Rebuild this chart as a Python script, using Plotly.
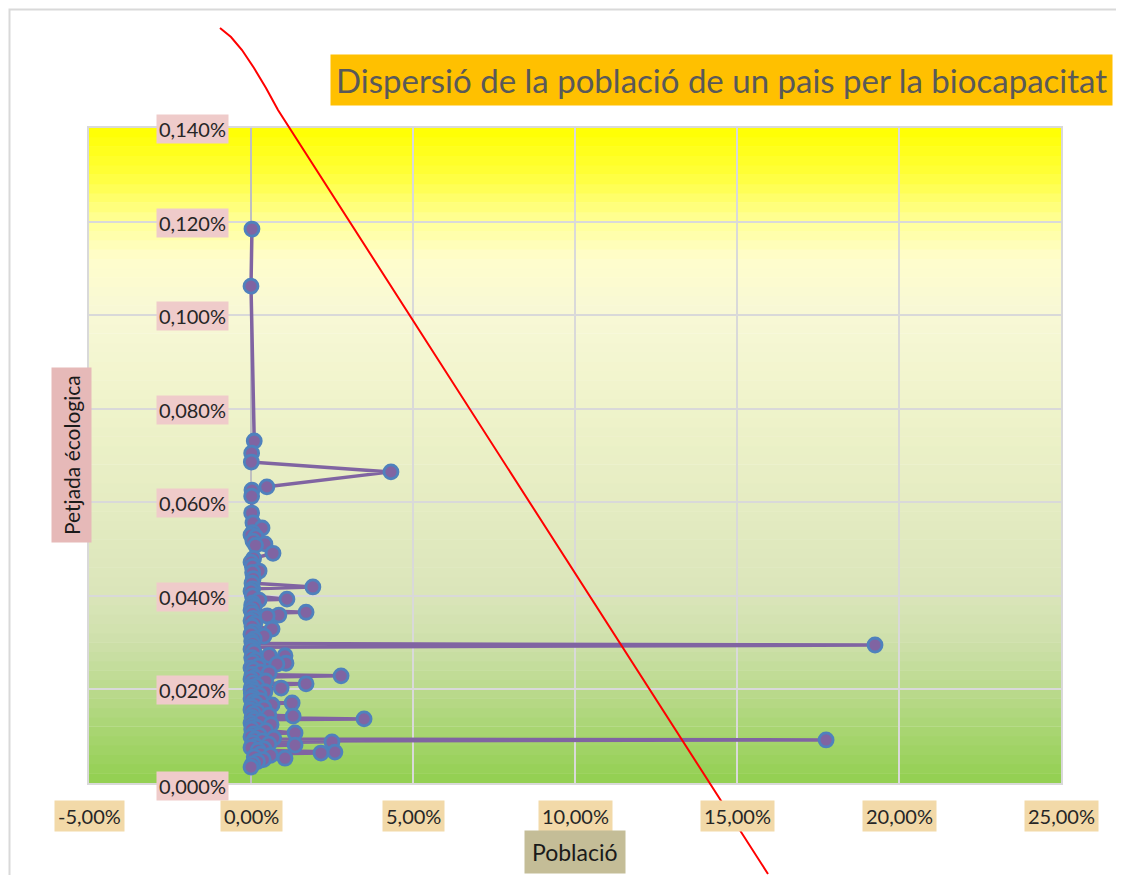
import plotly.graph_objects as go

# ---------------- data ----------------
# Població (% of world population) and Petjada ecològica (%), ordered as drawn
poblacio_pct = [
    0.03, 0.00, 0.10, 0.02, 0.01, 4.32, 0.49, 0.03, 0.02, 0.02,
    0.06, 0.34, 0.05, 0.00, 0.15, 0.06, 0.43, 0.14, 0.68, 0.08,
    0.00, 0.04, 0.25, 0.05, 0.07, 0.03, 1.91, 0.05, 0.00, 0.04,
    1.11, 0.25, 0.05, 0.02, 0.10, 0.00, 1.70, 0.04, 0.86, 0.50,
    0.08, 0.00, 0.12, 0.03, 0.65, 0.06, 0.00, 0.40, 0.10, 0.02,
    0.05, 19.26, 0.03, 0.00, 0.09, 0.56, 1.05, 0.02, 0.14, 0.05,
    1.08, 0.80, 0.22, 0.00, 0.08, 0.30, 0.56, 0.03, 2.78, 0.12,
    0.00, 0.45, 0.06, 1.70, 0.18, 0.02, 0.93, 0.00, 0.10, 0.43,
    0.01, 0.25, 0.05, 0.00, 0.30, 0.08, 1.27, 0.15, 0.65, 0.02,
    0.40, 0.00, 0.20, 0.07, 0.55, 1.30, 0.03, 3.49, 0.10, 0.30,
    0.00, 0.62, 0.05, 0.18, 0.02, 0.45, 1.36, 0.08, 0.25, 0.00,
    0.70, 0.12, 17.75, 0.35, 2.50, 0.05, 0.55, 1.36, 0.15, 0.00,
    0.40, 0.22, 2.59, 2.16, 0.30, 0.60, 0.10, 1.05, 0.38, 0.20,
    0.05, 0.00,
]
petjada_pct = [
    0.1184, 0.1062, 0.0731, 0.0705, 0.0686, 0.0665, 0.0633, 0.0626, 0.0613, 0.0577,
    0.0556, 0.0545, 0.0535, 0.0530, 0.0526, 0.0517, 0.0511, 0.0508, 0.0491, 0.0480,
    0.0472, 0.0463, 0.0453, 0.0450, 0.0437, 0.0427, 0.0419, 0.0415, 0.0410, 0.0400,
    0.0393, 0.0391, 0.0385, 0.0380, 0.0376, 0.0369, 0.0365, 0.0362, 0.0359, 0.0357,
    0.0352, 0.0347, 0.0341, 0.0335, 0.0329, 0.0323, 0.0318, 0.0314, 0.0308, 0.0303,
    0.0298, 0.0295, 0.0290, 0.0286, 0.0280, 0.0273, 0.0272, 0.0268, 0.0263, 0.0258,
    0.0256, 0.0254, 0.0250, 0.0246, 0.0242, 0.0237, 0.0235, 0.0232, 0.0229, 0.0226,
    0.0222, 0.0218, 0.0214, 0.0212, 0.0208, 0.0205, 0.0203, 0.0200, 0.0197, 0.0195,
    0.0192, 0.0188, 0.0184, 0.0180, 0.0176, 0.0173, 0.0171, 0.0169, 0.0167, 0.0163,
    0.0160, 0.0156, 0.0152, 0.0148, 0.0145, 0.0143, 0.0140, 0.0137, 0.0135, 0.0131,
    0.0128, 0.0125, 0.0122, 0.0119, 0.0115, 0.0112, 0.0107, 0.0105, 0.0102, 0.0099,
    0.0096, 0.0094, 0.0092, 0.0090, 0.0088, 0.0086, 0.0083, 0.0081, 0.0079, 0.0076,
    0.0073, 0.0070, 0.0066, 0.0064, 0.0062, 0.0059, 0.0056, 0.0053, 0.0050, 0.0046,
    0.0041, 0.0034,
]

x_tick_vals = [-5, 0, 5, 10, 15, 20, 25]
y_tick_vals = [0.000, 0.020, 0.040, 0.060, 0.080, 0.100, 0.120, 0.140]

title_text = "Dispersió de la població de un pais per la biocapacitat"
x_title = "Població"
y_title = "Petjada écologica"

# background gradient stops (value on y axis, colour)
grad_stops = [
    (0.000, (0x92, 0xD0, 0x50)),
    (0.010, (0xA6, 0xD4, 0x6E)),
    (0.020, (0xBB, 0xDA, 0x8E)),
    (0.030, (0xCE, 0xE0, 0xAA)),
    (0.040, (0xDA, 0xE5, 0xBA)),
    (0.060, (0xE5, 0xEC, 0xC2)),
    (0.080, (0xEF, 0xF3, 0xCA)),
    (0.100, (0xF7, 0xF8, 0xD6)),
    (0.112, (0xFF, 0xFD, 0xCC)),
    (0.120, (0xFF, 0xFF, 0x99)),
    (0.130, (0xFF, 0xFF, 0x3A)),
    (0.140, (0xFF, 0xFF, 0x00)),
]

OFF = 8                      # page body margin
W, H = 1124 - OFF, 877 - OFF
L, R, T, B = 89 - OFF, 63, 128 - OFF, 94
FONT = "Lato, 'Open Sans', sans-serif"


def grad_color(v):
    for (v0, c0), (v1, c1) in zip(grad_stops[:-1], grad_stops[1:]):
        if v0 <= v <= v1:
            t = (v - v0) / (v1 - v0)
            return "rgb(%d,%d,%d)" % tuple(round(a + (b - a) * t) for a, b in zip(c0, c1))
    return "rgb(255,255,0)"


def px(xp, yp):
    """page pixel position -> paper coordinates (for decorations only)"""
    pw, ph = W - L - R, H - T - B
    return (xp - OFF - L) / pw, (H - B - (yp - OFF)) / ph


fig = go.Figure()
fig.add_trace(go.Scatter(
    x=poblacio_pct, y=petjada_pct,
    mode="lines+markers",
    line=dict(color="#8064A2", width=3.5),
    marker=dict(size=14, color="#8064A2", line=dict(color="#4F81BD", width=2.8)),
    showlegend=False,
    cliponaxis=False,
))

shapes = []
n_bands = 70
ymax = y_tick_vals[-1]
for i in range(n_bands):
    y0 = ymax * i / n_bands
    y1 = ymax * (i + 1) / n_bands
    shapes.append(dict(type="rect", xref="x domain", yref="y", x0=0, x1=1,
                       y0=y0, y1=y1 + ymax / n_bands * 0.05,
                       fillcolor=grad_color((y0 + y1) / 2), line=dict(width=0),
                       layer="below"))

# chart area border (grey, only top and left edges are in view)
b_pts = [px(1122, 9.5), px(9.5, 9.5), px(9.5, 875)]
shapes.append(dict(type="path", xref="paper", yref="paper",
                   path="M %f,%f L %f,%f L %f,%f" % (b_pts[0] + b_pts[1] + b_pts[2]),
                   line=dict(color="#D9D9D9", width=2), layer="above"))

# hand-drawn red line over the chart
pts = [(220, 28), (231, 37), (242, 50), (254, 68), (266, 88), (278, 110), (768, 874)]
pp = [px(a, b) for a, b in pts]
path = "M %f,%f " % pp[0] + " ".join("L %f,%f" % p for p in pp[1:])
shapes.append(dict(type="path", xref="paper", yref="paper", path=path,
                   line=dict(color="#FF0000", width=2), layer="above"))

annotations = []
for v in y_tick_vals:
    annotations.append(dict(
        x=0, y=v, xref="x", yref="y", xanchor="right", yanchor="middle",
        xshift=-22, yshift=-1 if v > 0 else -3,
        text=("%.3f%%" % v).replace(".", ","), showarrow=False,
        font=dict(family=FONT, size=20, color="#262626"),
        bgcolor="#EFCBCA", borderpad=2,
    ))
for v in x_tick_vals:
    annotations.append(dict(
        x=v, y=0, xref="x", yref="paper", xanchor="center", yanchor="top",
        yshift=-17,
        text=("%.2f%%" % v).replace(".", ","), showarrow=False,
        font=dict(family=FONT, size=20, color="#262626"),
        bgcolor="#F2D9A8", borderpad=3,
    ))
tx, ty = px(721, 80)
annotations.append(dict(
    x=tx, y=ty, xref="paper", yref="paper", xanchor="center", yanchor="middle",
    text=title_text, showarrow=False,
    font=dict(family=FONT, size=33, color="#595959"),
    bgcolor="#FFC000", borderpad=5,
))
ax, ay = px(575, 852)
annotations.append(dict(
    x=ax, y=ay, xref="paper", yref="paper", xanchor="center", yanchor="middle",
    text=x_title, showarrow=False,
    font=dict(family=FONT, size=23, color="#1a1a1a"),
    bgcolor="#C4BD97", borderpad=7,
))
vx, vy = px(71, 455)
annotations.append(dict(
    x=vx, y=vy, xref="paper", yref="paper", xanchor="center", yanchor="middle",
    text=y_title, showarrow=False, textangle=-90,
    font=dict(family=FONT, size=21, color="#1a1a1a"),
    bgcolor="#E6B9B8", borderpad=7,
))

fig.update_layout(
    width=W, height=H,
    margin=dict(l=L, r=R, t=T, b=B),
    paper_bgcolor="white",
    plot_bgcolor="white",
    separators=",.",
    shapes=shapes,
    annotations=annotations,
    font=dict(family=FONT),
)
fig.update_xaxes(
    range=[x_tick_vals[0], x_tick_vals[-1]], tickvals=x_tick_vals,
    showticklabels=False, ticks="",
    showgrid=True, gridcolor="#D9D9D9", gridwidth=2,
    zeroline=True, zerolinecolor="#BFBFBF", zerolinewidth=2,
    showline=True, mirror=True, linecolor="#D9D9D9", linewidth=2,
    fixedrange=True,
)
fig.update_yaxes(
    range=[y_tick_vals[0], y_tick_vals[-1]], tickvals=y_tick_vals,
    showticklabels=False, ticks="",
    showgrid=True, gridcolor="#D9D9D9", gridwidth=2,
    zeroline=False,
    showline=True, mirror=True, linecolor="#D9D9D9", linewidth=2,
    fixedrange=True,
)

fig.write_html("out.html")
